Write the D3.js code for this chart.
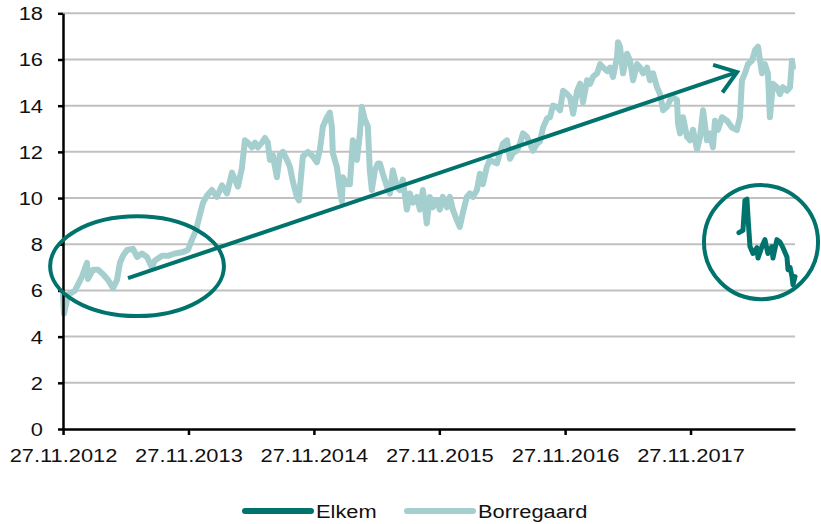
<!DOCTYPE html>
<html>
<head>
<meta charset="utf-8">
<script src="https://cdn.jsdelivr.net/npm/d3@7"></script>
<style>
  body { margin: 0; background: #fff; }
  svg { display: block; font-family: "Liberation Sans", Arial, sans-serif; }
</style>
</head>
<body>
<svg id="chart"></svg>
<script>
// Dates are decimal years
const borregaardT = [2012.904, 2012.912, 2012.944, 2013.000, 2013.055, 2013.095, 2013.103, 2013.143, 2013.183, 2013.223,
  2013.263, 2013.302, 2013.334, 2013.358, 2013.382, 2013.414, 2013.462, 2013.494, 2013.533, 2013.573,
  2013.613, 2013.637, 2013.693, 2013.741, 2013.796, 2013.852, 2013.900, 2013.932, 2013.964, 2013.996,
  2014.020, 2014.051, 2014.091, 2014.131, 2014.171, 2014.211, 2014.251, 2014.275, 2014.298, 2014.330,
  2014.354, 2014.378, 2014.410, 2014.434, 2014.458, 2014.490, 2014.514, 2014.537, 2014.553, 2014.577,
  2014.609, 2014.633, 2014.657, 2014.689, 2014.713, 2014.737, 2014.769, 2014.784, 2014.816, 2014.856,
  2014.896, 2014.928, 2014.952, 2014.976, 2015.008, 2015.031, 2015.047, 2015.055, 2015.087, 2015.111,
  2015.127, 2015.135, 2015.167, 2015.191, 2015.215, 2015.247, 2015.271, 2015.286, 2015.310, 2015.334,
  2015.350, 2015.366, 2015.390, 2015.414, 2015.430, 2015.454, 2015.486, 2015.510, 2015.533, 2015.565,
  2015.589, 2015.613, 2015.645, 2015.669, 2015.693, 2015.725, 2015.749, 2015.773, 2015.804, 2015.828,
  2015.852, 2015.884, 2015.908, 2015.932, 2015.964, 2015.988, 2016.012, 2016.043, 2016.067, 2016.091,
  2016.123, 2016.147, 2016.171, 2016.203, 2016.227, 2016.251, 2016.282, 2016.306, 2016.362, 2016.386,
  2016.410, 2016.442, 2016.466, 2016.490, 2016.521, 2016.545, 2016.569, 2016.601, 2016.625, 2016.649,
  2016.681, 2016.705, 2016.729, 2016.761, 2016.784, 2016.808, 2016.840, 2016.864, 2016.888, 2016.920,
  2016.944, 2016.968, 2017.000, 2017.024, 2017.047, 2017.079, 2017.103, 2017.127, 2017.159, 2017.183,
  2017.207, 2017.239, 2017.263, 2017.286, 2017.318, 2017.326, 2017.342, 2017.366, 2017.398, 2017.422,
  2017.446, 2017.478, 2017.502, 2017.526, 2017.557, 2017.581, 2017.605, 2017.637, 2017.661, 2017.685,
  2017.717, 2017.741, 2017.765, 2017.796, 2017.804, 2017.820, 2017.844, 2017.876, 2017.900, 2017.924,
  2017.956, 2017.980, 2018.004, 2018.035, 2018.059, 2018.083, 2018.099, 2018.123, 2018.155, 2018.195,
  2018.235, 2018.274, 2018.298, 2018.314, 2018.338, 2018.362, 2018.394, 2018.418, 2018.442, 2018.474,
  2018.497, 2018.521, 2018.537, 2018.561, 2018.593, 2018.617, 2018.641, 2018.673, 2018.697, 2018.713,
  2018.721];
const borregaardV = [5.8, 5.0, 5.8, 6.0, 6.6, 7.2, 6.5, 6.9, 6.9, 6.7,
  6.45, 6.1, 6.45, 7.2, 7.5, 7.75, 7.8, 7.45, 7.6, 7.45,
  7.0, 7.3, 7.5, 7.5, 7.6, 7.65, 7.75, 8.2, 8.6, 9.3,
  9.8, 10.1, 10.35, 10.05, 10.55, 10.2, 11.1, 10.8, 10.5, 11.3,
  12.5, 12.4, 12.2, 12.4, 12.2, 12.4, 12.6, 12.4, 11.65, 11.85,
  10.9, 11.9, 12.0, 11.65, 11.35, 10.7, 10.05, 9.9, 11.8, 12.0,
  11.8, 11.55, 12.1, 13.1, 13.5, 13.7, 13.1, 11.95, 11.35, 10.35,
  9.85, 10.9, 10.6, 10.6, 12.5, 11.65, 12.8, 13.95, 13.4, 13.1,
  11.2, 10.35, 11.2, 11.5, 11.5, 11.05, 10.5, 10.2, 11.2, 10.5,
  10.35, 10.8, 9.5, 10.2, 9.8, 10.05, 9.5, 10.35, 8.9, 10.05,
  9.6, 9.9, 9.5, 10.05, 9.6, 10.05, 9.5, 9.05, 8.75, 9.35,
  10.05, 10.2, 10.05, 10.35, 11.05, 10.6, 11.35, 11.65, 11.5, 11.95,
  12.35, 12.5, 11.7, 11.95, 12.05, 12.35, 12.8, 12.65, 12.35, 12.05,
  12.35, 12.45, 13.05, 13.45, 13.5, 14.0, 13.95, 13.8, 14.65, 14.5,
  14.35, 13.65, 14.65, 14.95, 14.15, 15.1, 14.95, 15.25, 15.4, 15.8,
  15.65, 15.5, 15.65, 15.25, 16.1, 16.75, 16.55, 15.4, 16.25, 15.95,
  15.1, 15.8, 15.65, 15.4, 15.65, 15.1, 15.4, 14.8, 14.5, 13.8,
  13.95, 14.25, 14.35, 14.25, 13.25, 12.8, 13.5, 12.65, 12.5, 12.95,
  12.1, 12.65, 13.8, 12.5, 12.8, 12.2, 13.35, 12.95, 13.5, 13.35,
  13.05, 12.95, 13.5, 15.1, 15.4, 15.8, 15.95, 16.4, 16.55, 15.4,
  15.8, 15.4, 13.5, 14.95, 14.8, 14.5, 14.8, 14.65, 14.8, 15.95,
  15.65];

const elkemT = [2018.290, 2018.322, 2018.338, 2018.354, 2018.362, 2018.378, 2018.402, 2018.434, 2018.442, 2018.474,
  2018.497, 2018.521, 2018.553, 2018.561, 2018.593, 2018.617, 2018.641, 2018.673, 2018.681, 2018.697,
  2018.713, 2018.721, 2018.737];
const elkemV = [8.5, 8.6, 9.9, 9.95, 9.2, 7.9, 7.6, 7.85, 7.4, 7.9,
  8.2, 7.6, 7.9, 7.4, 8.2, 8.1, 7.85, 7.45, 6.9, 7.0,
  6.6, 6.25, 6.6];

const seriesNames = ['Elkem', 'Borregaard'];
const yTicks = [0, 2, 4, 6, 8, 10, 12, 14, 16, 18];
const xTickYears = [2012, 2013, 2014, 2015, 2016, 2017];
const xTickLabels = ['27.11.2012', '27.11.2013', '27.11.2014', '27.11.2015', '27.11.2016', '27.11.2017'];

// annotations, in data units: [decimal year, value]
const arrowFrom = [2013.422, 6.53];
const arrowTo = [2018.275, 15.45];
const ellipseCenter = [2013.494, 7.05];
const ellipseRadius = [0.693, 2.16];
const circleCenter = [2018.466, 8.09];
const circleRadius = 2.47;

const dark = '#00736d';
const light = '#a5cece';
const colors = [dark, light];

function fromDecimal(t) {
  const y = Math.floor(t);
  const a = new Date(y, 0, 1), b = new Date(y + 1, 0, 1);
  return new Date(+a + (t - y) * (b - a));
}

const W = 821, H = 524;
const svg = d3.select('#chart').attr('width', W).attr('height', H);

const x = d3.scaleTime()
  .domain([fromDecimal(2012.904), fromDecimal(2018.737)])
  .range([63, 795]);
const y = d3.scaleLinear().domain([0, 18]).range([429, 13.3]);

// gridlines
svg.append('g')
  .selectAll('line')
  .data(yTicks.filter(d => d > 0))
  .enter().append('line')
  .attr('x1', 63).attr('x2', 795)
  .attr('y1', d => y(d)).attr('y2', d => y(d))
  .attr('stroke', '#c0c0c0')
  .attr('stroke-width', 2);

// series
const line = d3.line()
  .x(d => x(fromDecimal(d[0])))
  .y(d => y(d[1]));

svg.append('path')
  .datum(d3.zip(borregaardT, borregaardV))
  .attr('d', line)
  .attr('fill', 'none')
  .attr('stroke', light)
  .attr('stroke-width', 6)
  .attr('stroke-linejoin', 'round')
  .attr('stroke-linecap', 'round');

svg.append('path')
  .datum(d3.zip(elkemT, elkemV))
  .attr('d', line)
  .attr('fill', 'none')
  .attr('stroke', dark)
  .attr('stroke-width', 5)
  .attr('stroke-linejoin', 'round')
  .attr('stroke-linecap', 'round');

// axes
const sx = 1.15; // text in the picture is a bit wide
const yAxis = d3.axisLeft(y).tickValues(yTicks).tickSize(5).tickSizeOuter(0);
const gy = svg.append('g').attr('transform', 'translate(63,0)').call(yAxis);
gy.select('.domain').attr('stroke', '#000').attr('stroke-width', 2.5);
gy.selectAll('.tick line').attr('stroke', '#000').attr('stroke-width', 2.5);
gy.selectAll('.tick text')
  .attr('font-size', 19)
  .attr('fill', '#111')
  .attr('x', -20 / sx)
  .attr('dy', '0.34em')
  .attr('transform', `scale(${sx},1)`);

const xAxis = d3.axisBottom(x)
  .tickValues(xTickYears.map(yr => new Date(yr, 10, 27)))
  .tickFormat((d, i) => xTickLabels[i])
  .tickSize(6)
  .tickSizeOuter(0);
const gx = svg.append('g').attr('transform', 'translate(0,429)').call(xAxis);
gx.select('.domain').attr('stroke', '#000').attr('stroke-width', 2.5);
gx.selectAll('.tick line').attr('stroke', '#000').attr('stroke-width', 2.5);
gx.selectAll('.tick text')
  .attr('font-size', 19)
  .attr('fill', '#111')
  .attr('y', 33)
  .attr('dy', 0)
  .attr('transform', `scale(${sx},1)`);
svg.selectAll('.domain').attr('fill', 'none');

// annotations
const ann = svg.append('g')
  .attr('fill', 'none')
  .attr('stroke', dark)
  .attr('stroke-width', 4);

const ex = x(fromDecimal(ellipseCenter[0])), ey = y(ellipseCenter[1]);
ann.append('ellipse')
  .attr('cx', ex).attr('cy', ey)
  .attr('rx', x(fromDecimal(ellipseCenter[0] + ellipseRadius[0])) - ex)
  .attr('ry', y(ellipseCenter[1] - ellipseRadius[1]) - ey);

const ccx = x(fromDecimal(circleCenter[0])), ccy = y(circleCenter[1]);
ann.append('circle')
  .attr('cx', ccx).attr('cy', ccy)
  .attr('r', y(circleCenter[1] - circleRadius) - ccy);

const ax1 = x(fromDecimal(arrowFrom[0])), ay1 = y(arrowFrom[1]);
const ax2 = x(fromDecimal(arrowTo[0])), ay2 = y(arrowTo[1]);
ann.append('line')
  .attr('x1', ax1).attr('y1', ay1)
  .attr('x2', ax2).attr('y2', ay2);

// open arrow head
const ang = Math.atan2(ay2 - ay1, ax2 - ax1);
const headLen = 25, headAng = 0.62;
const head = [
  [ax2 - headLen * Math.cos(ang - headAng), ay2 - headLen * Math.sin(ang - headAng)],
  [ax2, ay2],
  [ax2 - headLen * Math.cos(ang + headAng), ay2 - headLen * Math.sin(ang + headAng)]
];
ann.append('path')
  .attr('d', d3.line()(head))
  .attr('stroke-linejoin', 'miter');

// legend
const legendX = [245, 407];
const legend = svg.append('g').attr('transform', 'translate(0,511)');
seriesNames.forEach((name, i) => {
  legend.append('line')
    .attr('x1', legendX[i]).attr('x2', legendX[i] + 66)
    .attr('y1', 0).attr('y2', 0)
    .attr('stroke', colors[i])
    .attr('stroke-width', 6)
    .attr('stroke-linecap', 'round');
  legend.append('text')
    .attr('x', (legendX[i] + 71) / sx)
    .attr('y', 7)
    .attr('transform', `scale(${sx},1)`)
    .attr('font-size', 19)
    .attr('fill', '#111')
    .text(name);
});
</script>
</body>
</html>
